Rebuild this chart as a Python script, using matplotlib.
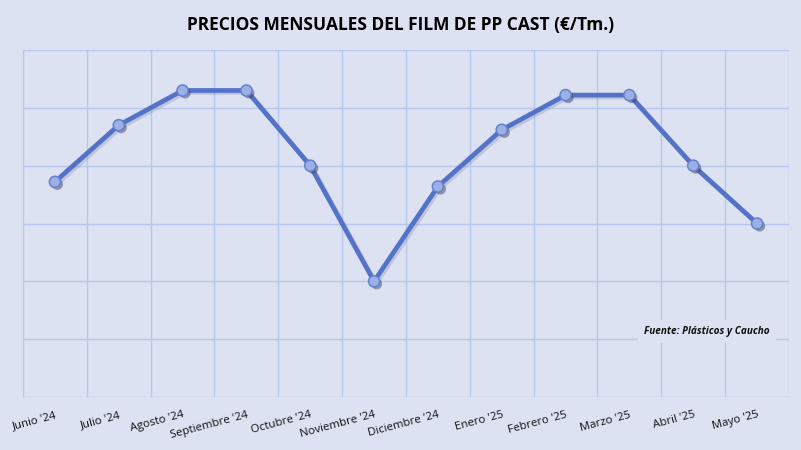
import numpy as np
import matplotlib
matplotlib.use("Agg")
import matplotlib.pyplot as plt
import matplotlib.patheffects as pe

# Precios mensuales del film de PP cast (valores estimados, €/Tm.)
meses = ["Junio '24", "Julio '24", "Agosto '24", "Septiembre '24", "Octubre '24",
         "Noviembre '24", "Diciembre '24", "Enero '25", "Febrero '25", "Marzo '25",
         "Abril '25", "Mayo '25"]
precios = [1786, 1835, 1865, 1865, 1800, 1700, 1782, 1831, 1861, 1861, 1800, 1750]
y_min, y_max, y_paso = 1600, 1900, 50

FONDO = '#dce2f2'
REJILLA = '#b7c6ec'
LINEA = '#5372c8'

fig = plt.figure(figsize=(8.01, 4.5), dpi=100, facecolor=FONDO)
ax = fig.add_axes([23/801, 1 - 397/450, (789-23)/801, (397-50)/450])
ax.set_facecolor(FONDO)

x = np.arange(len(meses))
ax.plot(x, precios, color=LINEA, lw=3.4, zorder=3,
        path_effects=[pe.SimpleLineShadow(offset=(1.5, -1.5), shadow_color='#6a7390', alpha=0.25), pe.Normal()])
ax.plot(x, precios, 'o', ms=8, mfc='#9bb0e4', mec='#6581cf', mew=1.1, zorder=4,
        path_effects=[pe.SimplePatchShadow(offset=(1.8, -1.8), shadow_rgbFace='#3e4560', alpha=0.5), pe.Normal()])

ax.set_xlim(-0.5, len(meses) - 0.5)
ax.set_ylim(y_min, y_max)
ax.set_xticks(np.arange(-0.5, len(meses), 1), minor=False)
ax.set_xticklabels([])
ax.set_xticks(x, minor=True)
ax.set_xticklabels(meses, minor=True, rotation=15, ha='right', rotation_mode='anchor',
                   fontsize=8.2, family='Open Sans', color='#111111')
ax.set_yticks(np.arange(y_min, y_max + 1, y_paso))
ax.set_yticklabels([])
ax.tick_params(which='both', length=0)
ax.tick_params(axis='x', which='minor', pad=9)
ax.grid(True, which='major', color=REJILLA, lw=1)
for s in ax.spines.values():
    s.set_visible(False)
ax.axhline(y_min, color='#c8cfdf', lw=1, zorder=1)

fig.text(0.5, 1 - 25/450, 'PRECIOS MENSUALES DEL FILM DE PP CAST (€/Tm.)', ha='center', va='center',
         fontsize=12.5, fontweight='bold', family='Open Sans', color='black')

ax.text(0.893, 0.19, 'Fuente: Plásticos y Caucho', transform=ax.transAxes, ha='center', va='center',
        fontsize=7.2, fontweight='bold', style='italic', family='Open Sans', color='#111111', zorder=5,
        bbox=dict(boxstyle='square,pad=0.6', fc=FONDO, ec='none'))

fig.savefig('out.png', dpi=100, facecolor=FONDO)
